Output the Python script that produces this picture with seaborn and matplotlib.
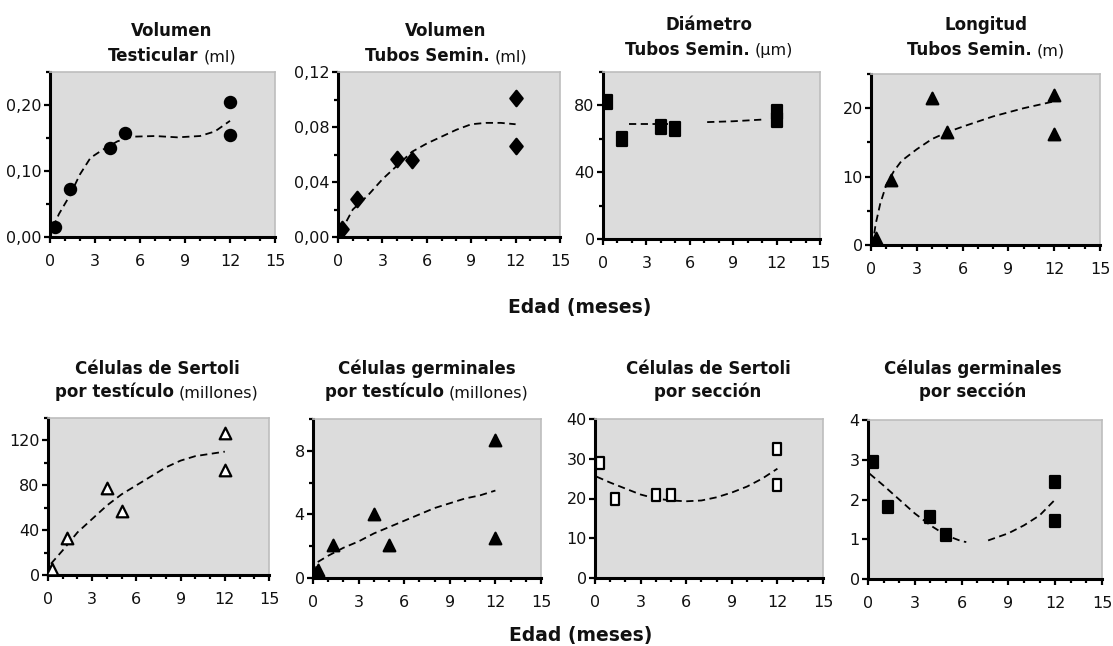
import numpy as np
import pandas as pd
import matplotlib
matplotlib.use("Agg")
import matplotlib.pyplot as plt
from matplotlib.ticker import MultipleLocator, FuncFormatter
from matplotlib.path import Path
import seaborn as sns

# -------------------- DATA --------------------
edad = [0.3, 1.3, 4, 5, 12, 12]

vol_test = [0.015, 0.072, 0.135, 0.157, 0.205, 0.155]
vol_test_fit_x = [0.2, 0.6, 1.3, 2, 2.7, 3.5, 4.5, 5.5, 7, 8.5, 10, 11, 12]
vol_test_fit_y = [0.015, 0.035, 0.062, 0.095, 0.12, 0.132, 0.145, 0.152, 0.153, 0.151, 0.153, 0.16, 0.176]

vol_tubos = [0.006, 0.028, 0.057, 0.056, 0.101, 0.066]
vol_tubos_fit_x = [0.2, 1, 2, 3, 4, 5, 6, 7, 8, 9, 10, 11, 12]
vol_tubos_fit_y = [0.004, 0.02, 0.03, 0.042, 0.052, 0.062, 0.068, 0.073, 0.078, 0.082, 0.083, 0.083, 0.082]

diam_tubos = [82, 60, 67, 66, 76, 71]
diam_tubos_fit_x = [1.8, 3, 4.5, 7.2, 9, 11]
diam_tubos_fit_y = [69, 69, 69, 70, 70.5, 71.5]
diam_tubos_fit_seg = [0, 0, 0, 1, 1, 1]

long_tubos = [1, 9.5, 21.5, 16.5, 22, 16.2]
long_tubos_fit_x = [0.1, 0.3, 0.6, 1, 1.5, 2, 3, 4, 5, 6, 8, 10, 12]
long_tubos_fit_y = [0, 3, 6, 8.8, 10.8, 12.3, 14, 15.5, 16.5, 17.3, 18.8, 20, 21]

sertoli_test = [5, 33, 78, 57, 127, 94]
sertoli_test_fit_x = [0.2, 1, 2, 3, 4, 5, 6, 7, 8, 9, 10, 11, 12]
sertoli_test_fit_y = [10, 22, 38, 50, 62, 72, 80, 88, 96, 102, 106, 108, 110]

germ_test = [0.5, 2.1, 4.0, 2.1, 8.7, 2.5]
germ_test_fit_x = [0.1, 0.3, 1, 2, 3, 4, 5, 6, 7, 8, 9, 10, 11, 12]
germ_test_fit_y = [0.3, 1.0, 1.4, 1.9, 2.3, 2.8, 3.2, 3.6, 4.0, 4.4, 4.7, 5.0, 5.2, 5.5]

sertoli_secc = [29, 20, 21, 21, 32.5, 23.5]
sertoli_secc_fit_x = [0.1, 1, 2, 3, 4, 5, 6, 7, 8, 9, 10, 11, 12]
sertoli_secc_fit_y = [25.5, 24, 22.5, 21, 20, 19.5, 19.3, 19.5, 20.3, 21.5, 23, 25, 27.5]

germ_secc = [2.95, 1.8, 1.55, 1.1, 2.45, 1.45]
germ_secc_fit_x = [0.1, 1, 2, 3, 4, 5, 6, 6.3, 7.7, 9, 10, 11, 12]
germ_secc_fit_y = [2.65, 2.35, 2.0, 1.65, 1.35, 1.1, 0.95, 0.93, 0.97, 1.15, 1.35, 1.6, 2.0]
germ_secc_fit_seg = [0, 0, 0, 0, 0, 0, 0, 0, 1, 1, 1, 1, 1]

titulos_1 = ["Volumen", "Volumen", "Diámetro", "Longitud",
             "Células de Sertoli", "Células germinales",
             "Células de Sertoli", "Células germinales"]
titulos_2 = ["Testicular", "Tubos Semin.", "Tubos Semin.", "Tubos Semin.",
             "por testículo", "por testículo", "por sección", "por sección"]
unidades = ["(ml)", "(ml)", "(µm)", "(m)", "(millones)", "(millones)", "", ""]

x_label = "Edad (meses)"

# -------------------- STYLE --------------------
sns.set_theme(style="white")
plt.rcParams["font.family"] = ["DejaVu Sans"]

W, H = 1113, 646
fig = plt.figure(figsize=(W / 100, H / 100), dpi=100)


def rect(l, r, t, b):
    return [l / W, 1 - b / H, (r - l) / W, (b - t) / H]


def box(w, h):
    return Path([(-w, -h), (w, -h), (w, h), (-w, h), (-w, -h)],
                [Path.MOVETO, Path.LINETO, Path.LINETO, Path.LINETO, Path.CLOSEPOLY])


diamond = Path([(0, 0.5), (0.4, 0), (0, -0.5), (-0.4, 0), (0, 0.5)],
               [Path.MOVETO, Path.LINETO, Path.LINETO, Path.LINETO, Path.CLOSEPOLY])

fmt2 = FuncFormatter(lambda v, p: f"{v:.2f}".replace(".", ","))
fmt0 = FuncFormatter(lambda v, p: f"{v:.0f}")

panels = [
    dict(pos=rect(50, 275, 72, 237), y=vol_test, fx=vol_test_fit_x, fy=vol_test_fit_y, seg=None,
         ylim=0.25, major=0.10, minor=0.05, fmt=fmt2, marker="o", s=65, face="black",
         tc=172, tb=(36, 61)),
    dict(pos=rect(338, 560, 72, 237), y=vol_tubos, fx=vol_tubos_fit_x, fy=vol_tubos_fit_y, seg=None,
         ylim=0.12, major=0.04, minor=0.02, fmt=fmt2, marker=diamond, s=125, face="black",
         tc=446, tb=(36, 61)),
    dict(pos=rect(603, 820, 72, 239), y=diam_tubos, fx=diam_tubos_fit_x, fy=diam_tubos_fit_y,
         seg=diam_tubos_fit_seg, ylim=100, major=40, minor=20, fmt=fmt0, marker=box(0.35, 0.5),
         s=90, face="black", tc=709, tb=(30, 55)),
    dict(pos=rect(871, 1100, 74, 245), y=long_tubos, fx=long_tubos_fit_x, fy=long_tubos_fit_y, seg=None,
         ylim=25, major=10, minor=5, fmt=fmt0, marker="^", s=70, face="black",
         tc=986, tb=(30, 55)),
    dict(pos=rect(48, 269, 418, 575), y=sertoli_test, fx=sertoli_test_fit_x, fy=sertoli_test_fit_y, seg=None,
         ylim=140, major=40, minor=20, fmt=fmt0, marker="^", s=70, face="white",
         tc=157, tb=(374, 397)),
    dict(pos=rect(313, 541, 419, 578), y=germ_test, fx=germ_test_fit_x, fy=germ_test_fit_y, seg=None,
         ylim=10, major=4, minor=2, fmt=fmt0, marker="^", s=70, face="black",
         tc=427, tb=(374, 397)),
    dict(pos=rect(595, 823, 419, 578), y=sertoli_secc, fx=sertoli_secc_fit_x, fy=sertoli_secc_fit_y, seg=None,
         ylim=40, major=10, minor=None, fmt=fmt0, marker=box(0.33, 0.5), s=85, face="white",
         tc=708, tb=(374, 397)),
    dict(pos=rect(868, 1102, 420, 579), y=germ_secc, fx=germ_secc_fit_x, fy=germ_secc_fit_y,
         seg=germ_secc_fit_seg, ylim=4, major=1, minor=None, fmt=fmt0, marker=box(0.4, 0.5),
         s=80, face="black", tc=973, tb=(374, 397)),
]

renderer = fig.canvas.get_renderer()

for i, p in enumerate(panels):
    ax = fig.add_axes(p["pos"])
    ax.set_facecolor("#dcdcdc")

    seg = p["seg"] if p["seg"] is not None else [0] * len(p["fx"])
    fit = pd.DataFrame({"x": p["fx"], "y": p["fy"], "seg": seg})
    pts = pd.DataFrame({"x": edad, "y": p["y"]})

    sns.lineplot(data=fit, x="x", y="y", units="seg", estimator=None, ax=ax,
                 color="black", lw=1.3, linestyle=(0, (4, 2.5)), zorder=2)
    sns.scatterplot(data=pts, x="x", y="y", ax=ax, marker=p["marker"], s=p["s"],
                    color=p["face"], edgecolor="black", linewidth=1.6, zorder=3)

    ax.set_xlim(0, 15)
    ax.set_ylim(0, p["ylim"])
    ax.xaxis.set_major_locator(MultipleLocator(3))
    ax.xaxis.set_minor_locator(MultipleLocator(1))
    ax.yaxis.set_major_locator(MultipleLocator(p["major"]))
    if p["minor"]:
        ax.yaxis.set_minor_locator(MultipleLocator(p["minor"]))
    ax.yaxis.set_major_formatter(p["fmt"])
    ax.set_xlabel("")
    ax.set_ylabel("")

    for side in ("left", "bottom"):
        ax.spines[side].set_color("black")
        ax.spines[side].set_linewidth(2.2)
    for side in ("top", "right"):
        ax.spines[side].set_color("#bdbdbd")
        ax.spines[side].set_linewidth(1.2)

    ax.tick_params(which="both", direction="out", color="black", width=1.6,
                   bottom=True, left=True, top=False, right=False)
    ax.tick_params(which="major", length=4, labelsize=11.5, labelcolor="#111111")
    ax.tick_params(which="minor", length=3)
    ax.tick_params(axis="x", which="major", pad=8)
    ax.tick_params(axis="y", which="major", pad=2)

    # -------------------- TITLES --------------------
    b1, b2 = p["tb"]
    fig.text(p["tc"] / W, 1 - b1 / H, titulos_1[i], ha="center", va="baseline",
             fontsize=12, fontweight="bold", color="#111111")
    t_bold = fig.text(0, 1 - b2 / H, titulos_2[i], ha="left", va="baseline",
                      fontsize=12, fontweight="bold", color="#111111")
    w_bold = t_bold.get_window_extent(renderer).width
    if unidades[i]:
        t_unit = fig.text(0, 1 - b2 / H, unidades[i], ha="left", va="baseline",
                          fontsize=11.5, color="#111111")
        w_unit = t_unit.get_window_extent(renderer).width
        gap = 5
        x0 = p["tc"] - (w_bold + gap + w_unit) / 2
        t_bold.set_x(x0 / W)
        t_unit.set_x((x0 + w_bold + gap) / W)
    else:
        t_bold.set_x((p["tc"] - w_bold / 2) / W)

fig.text(580 / W, 1 - 308 / H, x_label, ha="center", va="center",
         fontsize=13.5, fontweight="bold", color="#111111")
fig.text(581 / W, 1 - 636 / H, x_label, ha="center", va="center",
         fontsize=13.5, fontweight="bold", color="#111111")

fig.savefig("out.png", dpi=100, facecolor="white")
